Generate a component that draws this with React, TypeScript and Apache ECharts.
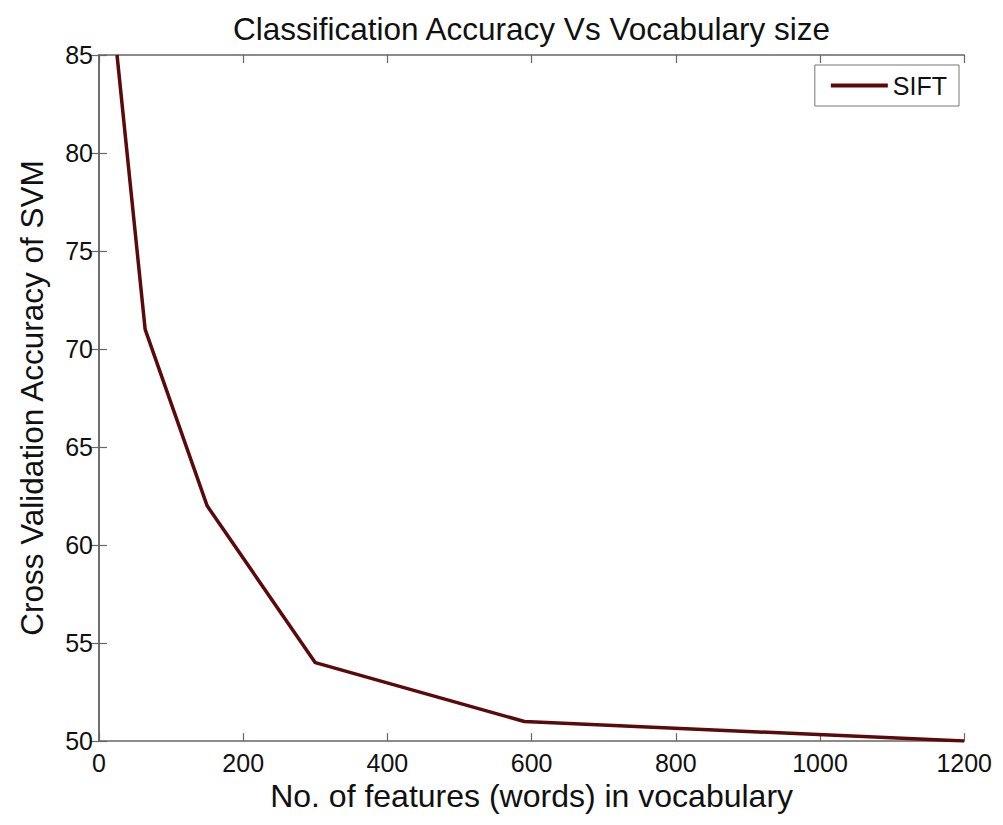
import React, { useEffect, useRef } from "react";
import * as echarts from "echarts";

const vocabSizes = [25, 64, 150, 300, 590, 1200];
const accuracy = [85, 71, 62, 54, 51, 50];
const xTicks = [0, 200, 400, 600, 800, 1000, 1200];
const yTicks = [50, 55, 60, 65, 70, 75, 80, 85];

const FONT = "'Liberation Sans', Arial, sans-serif";

export default function App() {
  const ref = useRef<HTMLDivElement>(null);
  useEffect(() => {
    if (!ref.current) return;
    const chart = echarts.init(ref.current, undefined, { renderer: "svg" });
    const axisLine = { show: true, lineStyle: { color: "#666", width: 1.5 } };
    const tick = { show: true, inside: true, length: 8, lineStyle: { color: "#666", width: 1.2 } };
    chart.setOption({
      animation: false,
      backgroundColor: "#fff",
      textStyle: { fontFamily: FONT },
      title: {
        text: "Classification Accuracy Vs Vocabulary size",
        left: 220,
        top: 0,
        textStyle: { fontFamily: FONT, fontSize: 31.5, fontWeight: "normal", color: "#111" },
      },
      legend: {
        right: 36,
        top: 57,
        orient: "vertical",
        padding: [8, 12, 8, 16],
        borderColor: "#777",
        borderWidth: 1,
        backgroundColor: "#fff",
        itemWidth: 57,
        itemHeight: 4,
        itemGap: 0,
        textStyle: { fontFamily: FONT, fontSize: 25, color: "#111" },
        data: [{ name: "SIFT", icon: "rect" }],
      },
      grid: { left: 81, right: 29, top: 47, bottom: 69, containLabel: false },
      xAxis: [
        {
          type: "value",
          min: 0,
          max: 1200,
          interval: 200,
          name: "No. of features (words) in vocabulary",
          nameLocation: "middle",
          nameGap: 30,
          nameTextStyle: { fontFamily: FONT, fontSize: 32, color: "#111" },
          axisLine,
          axisTick: tick,
          splitLine: { show: false },
          axisLabel: {
            fontFamily: FONT,
            fontSize: 25,
            color: "#111",
            margin: 9,
            formatter: (v: number) => String(v),
          },
          data: xTicks,
        },
        {
          type: "value",
          position: "top",
          min: 0,
          max: 1200,
          interval: 200,
          axisLine,
          axisTick: tick,
          axisLabel: { show: false },
          splitLine: { show: false },
        },
      ],
      yAxis: [
        {
          type: "value",
          min: 50,
          max: 85,
          interval: 5,
          name: "Cross Validation Accuracy of SVM",
          nameLocation: "middle",
          nameGap: 51,
          nameTextStyle: { fontFamily: FONT, fontSize: 31.5, color: "#111" },
          axisLine,
          axisTick: tick,
          splitLine: { show: false },
          axisLabel: {
            fontFamily: FONT,
            fontSize: 25,
            color: "#111",
            margin: 6,
            formatter: (v: number) => String(v),
          },
          data: yTicks,
        },
        {
          type: "value",
          position: "right",
          min: 50,
          max: 85,
          interval: 5,
          axisLine,
          axisTick: tick,
          axisLabel: { show: false },
          splitLine: { show: false },
        },
      ],
      series: [
        {
          name: "SIFT",
          type: "line",
          data: vocabSizes.map((v, i) => [v, accuracy[i]]),
          symbol: "none",
          lineStyle: { color: "#5a0a0a", width: 3.5 },
          itemStyle: { color: "#5a0a0a" },
          clip: true,
        },
      ],
    });
    return () => chart.dispose();
  }, []);
  return <div ref={ref} style={{ width: 987, height: 809 }} />;
}
